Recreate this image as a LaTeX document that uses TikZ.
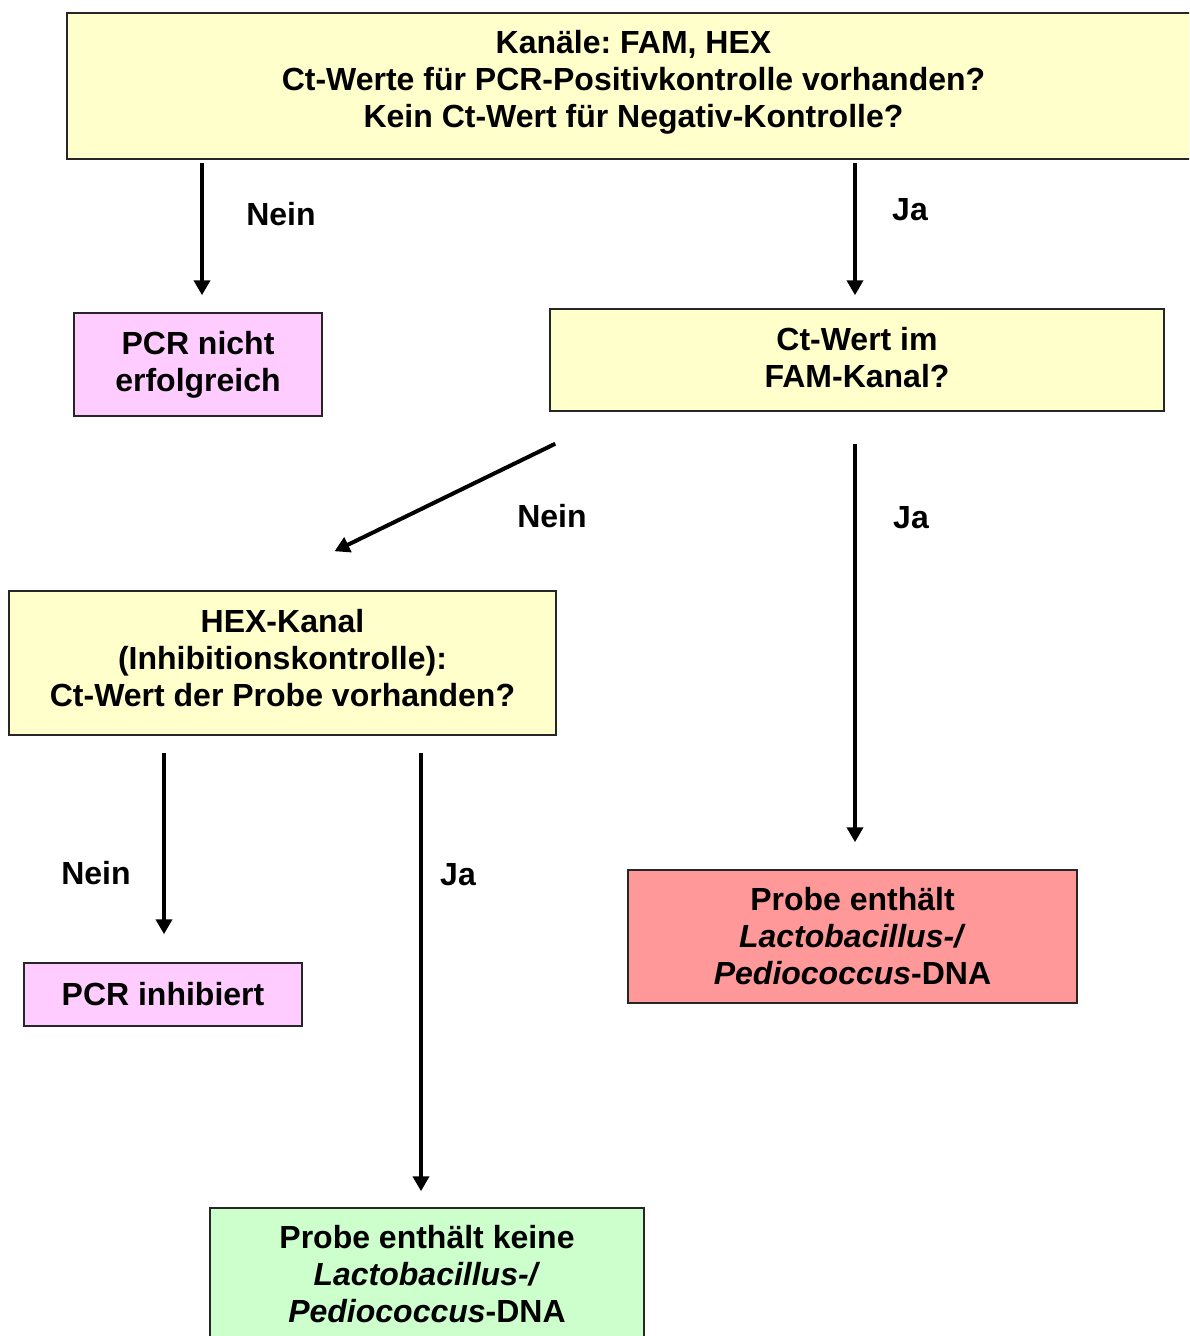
\documentclass[tikz,border=0pt]{standalone}
\usepackage{fontspec}
\setmainfont{Liberation Sans}
\frenchspacing
\usetikzlibrary{arrows.meta}
\usetikzlibrary{positioning}
\tikzset{box/.style = {draw = black!85, line width = 1.5pt, inner sep = 0, align = center, font = \bfseries\fontsize{32}{37}\selectfont}}
\tikzset{lbl/.style = {inner sep = 0, font = \bfseries\fontsize{32}{37}\selectfont}}
\tikzset{arr/.style = {line width = 4pt, -{Triangle[width = 16pt, length = 15pt]}}}
\definecolor{myellow}{HTML}{FFFFCC}
\definecolor{mpink}{HTML}{FFCCFF}
\definecolor{mred}{HTML}{FF9999}
\definecolor{mgreen}{HTML}{CCFFCC}

\begin{document}
\begin{tikzpicture}[x = 1pt, y = -1pt]
    \useasboundingbox (0, 0) rectangle (1189, 1336);
    \clip (0, 0) rectangle (1189, 1336);

    \node [box, fill = myellow, minimum width = 1133pt, minimum height = 146pt] (start) at (633.5, 86)
      {Kanäle: FAM, HEX\\Ct-Werte für PCR-Positivkontrolle vorhanden?\\Kein Ct-Wert für Negativ-Kontrolle?\rule[-15pt]{0pt}{0pt}};
    \node [box, fill = mpink, minimum width = 248pt, minimum height = 103pt] (nofail) at (198, 364.5)
      {PCR nicht\\erfolgreich};
    \node [box, fill = myellow, minimum width = 614pt, minimum height = 102pt] (fam) at (857, 360)
      {Ct-Wert im\\FAM-Kanal?\rule[-6pt]{0pt}{0pt}};
    \node [box, fill = myellow, minimum width = 547pt, minimum height = 144pt] (hex) at (282.5, 663)
      {HEX-Kanal\\(Inhibitionskontrolle):\\Ct-Wert der Probe vorhanden?\rule[-10pt]{0pt}{0pt}};
    \node [box, fill = mpink, minimum width = 278pt, minimum height = 63pt] (inhib) at (163, 994.5)
      {PCR inhibiert};
    \node [box, fill = mred, minimum width = 449pt, minimum height = 133pt] (pos) at (852.5, 936.5)
      {Probe enthält\\\textit{Lactobacillus-/}\\\textit{Pediococcus}-DNA};
    \node [box, fill = mgreen, minimum width = 434pt, minimum height = 133pt] (neg) at (427, 1274.5)
      {Probe enthält keine\\\textit{Lactobacillus-/}\\\textit{Pediococcus}-DNA};

    \draw [arr, shorten <= 3pt, shorten >= 17pt] ([xshift = 4pt]nofail.north |- start.south) -- ([xshift = 4pt]nofail.north);
    \draw [arr, shorten <= 3pt, shorten >= 13pt] ([xshift = -2pt]fam.north |- start.south) -- ([xshift = -2pt]fam.north);
    \draw [arr] ([shift = {(6, 32)}]fam.south west) -- ([shift = {(52, -39)}]hex.north);
    \draw [arr, shorten <= 32pt, shorten >= 27pt] ([xshift = -2pt]fam.south) -- ([xshift = -2pt]fam.south |- pos.north);
    \draw [arr, shorten <= 17pt, shorten >= 28pt] ([xshift = 1pt]inhib.north |- hex.south) -- ([xshift = 1pt]inhib.north);
    \draw [arr, shorten <= 17pt, shorten >= 16pt] ([xshift = -6pt]neg.north |- hex.south) -- ([xshift = -6pt]neg.north);

    \node [lbl] (nein1) at (281, 214) {Nein};
    \node [lbl] (ja1) at (910, 210) {Ja};
    \node [lbl] (nein2) at (552, 516) {Nein};
    \node [lbl] (ja2) at (911, 518) {Ja};
    \node [lbl] (nein3) at (96, 873) {Nein};
    \node [lbl] (ja3) at (458, 875) {Ja};
\end{tikzpicture}
\end{document}
